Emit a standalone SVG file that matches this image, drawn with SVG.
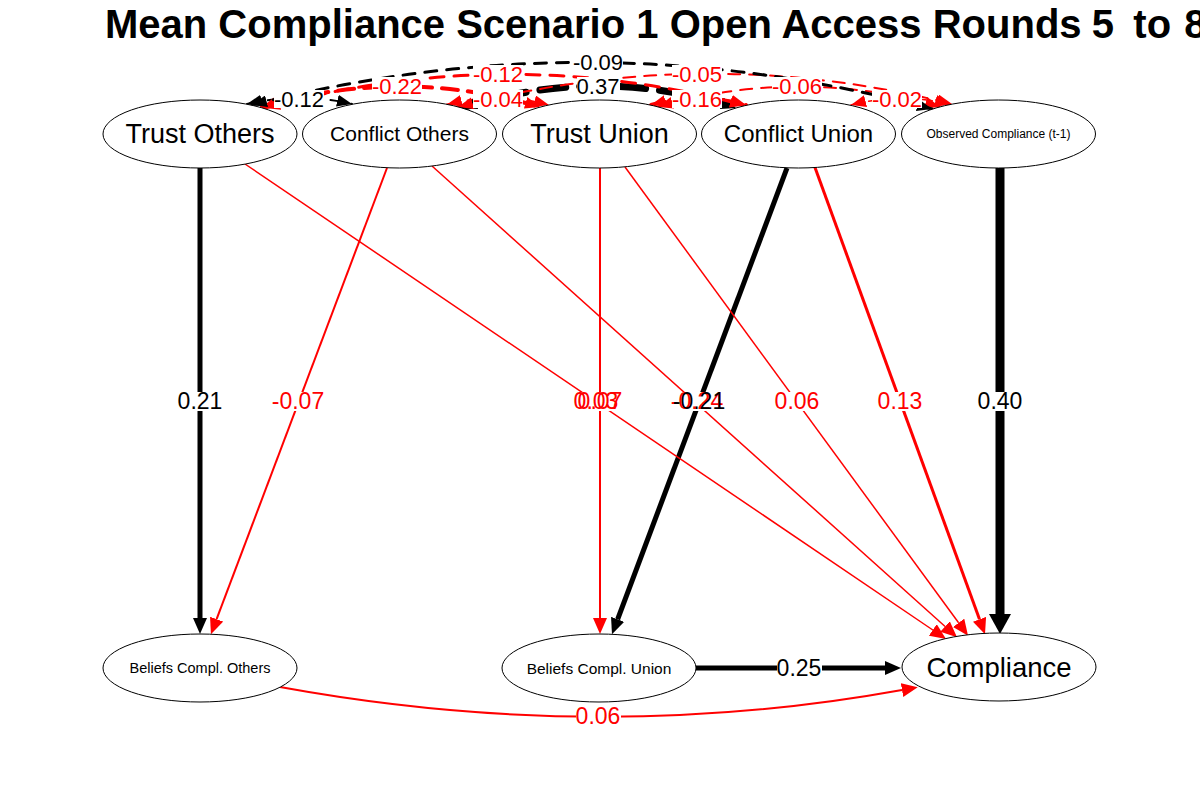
<svg xmlns="http://www.w3.org/2000/svg" width="1200" height="800" viewBox="0 0 1200 800">
<defs>
<style>
text{font-family:"Liberation Sans",Arial,Helvetica,sans-serif;}
.node ellipse{fill:#fff;stroke:#000;stroke-width:1;}
.nl{text-anchor:middle;fill:#000;}
.e{fill:none;}
.k{stroke:#000;}
.r{stroke:#f00;}
.cov{fill:none;stroke-linecap:round;}
.lb{fill:#fff;}
.lt{text-anchor:middle;font-size:23px;}
.ct{text-anchor:middle;font-size:22px;}
.tk{fill:#000;}
.tr{fill:#f00;}
.title{font-size:40px;font-weight:bold;white-space:pre;}
</style>
<marker id="ak" markerUnits="userSpaceOnUse" viewBox="0 0 16 14" markerWidth="16" markerHeight="14" refX="0" refY="7" orient="auto"><path d="M0,0 L16,7 L0,14 z" fill="#000"/></marker>
<marker id="ar" markerUnits="userSpaceOnUse" viewBox="0 0 16 14" markerWidth="16" markerHeight="14" refX="0" refY="7" orient="auto"><path d="M0,0 L16,7 L0,14 z" fill="#f00"/></marker>
<marker id="akb" markerUnits="userSpaceOnUse" viewBox="0 0 20 22" markerWidth="20" markerHeight="22" refX="0" refY="11" orient="auto"><path d="M0,0 L20,11 L0,22 z" fill="#000"/></marker>
<marker id="ck" markerUnits="userSpaceOnUse" viewBox="0 0 15 12" markerWidth="15" markerHeight="12" refX="15" refY="6" orient="auto-start-reverse"><path d="M0,0 L15,6 L0,12 z" fill="#000"/></marker>
<marker id="cr" markerUnits="userSpaceOnUse" viewBox="0 0 15 12" markerWidth="15" markerHeight="12" refX="15" refY="6" orient="auto-start-reverse"><path d="M0,0 L15,6 L0,12 z" fill="#f00"/></marker>
</defs>
<rect width="1200" height="800" fill="#fff"/>
<text class="title" x="105" y="38">Mean Compliance Scenario 1 Open Access Rounds<tspan dx="-12">  5</tspan><tspan dx="-3">  to</tspan><tspan dx="-9">  8</tspan></text>

<g id="connectors">
<!-- regressions -->
<path class="e k" stroke-width="5" d="M200,168 L200,618" marker-end="url(#ak)"/>
<path class="e r" stroke-width="2" d="M387,168 L216.6,619.2" marker-end="url(#ar)"/>
<path class="e r" stroke-width="2" d="M600,168 L600,618" marker-end="url(#ar)"/>
<path class="e k" stroke-width="5" d="M787,168 L617.6,619.3" marker-end="url(#ak)"/>
<path class="e r" stroke-width="1.5" d="M245,164 L932.8,630" marker-end="url(#ar)"/>
<path class="e r" stroke-width="1.5" d="M432,166 L945.1,626.5" marker-end="url(#ar)"/>
<path class="e r" stroke-width="1.5" d="M625,167 L958.6,622.8" marker-end="url(#ar)"/>
<path class="e r" stroke-width="3" d="M815,167.5 L979.5,619.3" marker-end="url(#ar)"/>
<path class="e k" stroke-width="9" d="M1000,168 L1000,614" marker-end="url(#akb)"/>
<path class="e k" stroke-width="5" d="M696,668 L885,668" marker-end="url(#ak)"/>
<path class="e r" stroke-width="2" d="M280,687 Q598,745 902,690" marker-end="url(#ar)"/>
<!-- covariances -->
<path class="cov k" stroke-width="2" stroke-dasharray="12 9" d="M247,104 Q300,92 352,104" marker-start="url(#ck)" marker-end="url(#ck)"/>
<path class="cov r" stroke-width="2" stroke-dasharray="12 9" d="M447,104.5 Q498,92 549,105" marker-start="url(#cr)" marker-end="url(#cr)"/>
<path class="cov r" stroke-width="4" stroke-dasharray="14 10" d="M651,105 Q699,92 746,105" marker-start="url(#cr)" marker-end="url(#cr)"/>
<path class="cov r" stroke-width="1.5" stroke-dasharray="10 8" d="M851,105 Q900,92 950,104.5" marker-start="url(#cr)" marker-end="url(#cr)"/>
<path class="cov r" stroke-width="4" stroke-dasharray="16 10" d="M262,107 Q400,66 540,107" marker-start="url(#cr)" marker-end="url(#cr)"/>
<path class="cov k" stroke-width="7" stroke-dasharray="26 14" d="M462,108 Q599,64 736,108" marker-start="url(#ck)" marker-end="url(#ck)"/>
<path class="cov r" stroke-width="2" stroke-dasharray="12 9" d="M658,107 Q799,66 940,107" marker-start="url(#cr)" marker-end="url(#cr)"/>
<path class="cov r" stroke-width="3" stroke-dasharray="14 10" d="M265,108 Q505,42 745,105.5" marker-start="url(#cr)" marker-end="url(#cr)"/>
<path class="cov r" stroke-width="2" stroke-dasharray="12 9" d="M458,107 Q705,42 952,104" marker-start="url(#cr)" marker-end="url(#cr)"/>
<path class="cov k" stroke-width="3" stroke-dasharray="12 10" d="M252,105 Q592,18 932,109" marker-start="url(#ck)" marker-end="url(#ck)"/>
</g>

<g id="label-backgrounds">
<rect class="lb" x="178" y="392" width="45" height="19"/>
<rect class="lb" x="272" y="392" width="52" height="19"/>
<rect class="lb" x="574" y="392" width="45" height="19"/>
<rect class="lb" x="578" y="392" width="45" height="19"/>
<rect class="lb" x="671" y="392" width="52" height="19"/>
<rect class="lb" x="673" y="392" width="52" height="19"/>
<rect class="lb" x="775" y="392" width="45" height="19"/>
<rect class="lb" x="878" y="392" width="45" height="19"/>
<rect class="lb" x="978" y="392" width="45" height="19"/>
<rect class="lb" x="777" y="659" width="45" height="19"/>
<rect class="lb" x="576" y="707" width="45" height="19"/>
<rect class="lb" x="274" y="90" width="50" height="18"/>
<rect class="lb" x="372" y="77" width="50" height="18"/>
<rect class="lb" x="473" y="65" width="50" height="18"/>
<rect class="lb" x="473" y="90" width="50" height="18"/>
<rect class="lb" x="577" y="77" width="43" height="18"/>
<rect class="lb" x="573" y="53" width="50" height="18"/>
<rect class="lb" x="672" y="65" width="50" height="18"/>
<rect class="lb" x="672" y="90" width="50" height="18"/>
<rect class="lb" x="772" y="77" width="50" height="18"/>
<rect class="lb" x="872" y="90" width="50" height="18"/>
</g>

<g id="edge-labels">
<text class="lt tk" x="200" y="409">0.21</text>
<text class="lt tr" x="298" y="409">-0.07</text>
<text class="lt tr" x="596" y="409">0.03</text>
<text class="lt tr" x="600" y="409">0.07</text>
<text class="lt tr" x="697" y="409">-0.24</text>
<text class="lt tk" x="699" y="409">-0.21</text>
<text class="lt tr" x="797" y="409">0.06</text>
<text class="lt tr" x="900" y="409">0.13</text>
<text class="lt tk" x="1000" y="409">0.40</text>
<text class="lt tk" x="799" y="676">0.25</text>
<text class="lt tr" x="598" y="724">0.06</text>
<text class="ct tk" x="299" y="107">-0.12</text>
<text class="ct tr" x="397" y="94">-0.22</text>
<text class="ct tr" x="498" y="82">-0.12</text>
<text class="ct tr" x="498" y="107">-0.04</text>
<text class="ct tk" x="598" y="94">0.37</text>
<text class="ct tk" x="598" y="70">-0.09</text>
<text class="ct tr" x="697" y="82">-0.05</text>
<text class="ct tr" x="697" y="107">-0.16</text>
<text class="ct tr" x="797" y="94">-0.06</text>
<text class="ct tr" x="897" y="107">-0.02</text>
</g>

<g id="node-trust-others" class="node"><ellipse cx="200" cy="134" rx="97" ry="34"/><text class="nl" x="200" y="143" font-size="27">Trust Others</text></g>
<g id="node-conflict-others" class="node"><ellipse cx="399.5" cy="134" rx="97" ry="34"/><text class="nl" x="399.5" y="141" font-size="21">Conflict Others</text></g>
<g id="node-trust-union" class="node"><ellipse cx="599.5" cy="134" rx="97" ry="34"/><text class="nl" x="599.5" y="143" font-size="27">Trust Union</text></g>
<g id="node-conflict-union" class="node"><ellipse cx="798.5" cy="134" rx="97" ry="34"/><text class="nl" x="798.5" y="142" font-size="24">Conflict Union</text></g>
<g id="node-observed-compliance" class="node"><ellipse cx="998.5" cy="134" rx="97" ry="34"/><text class="nl" x="998.5" y="138" font-size="12">Observed Compliance (t-1)</text></g>
<g id="node-beliefs-others" class="node"><ellipse cx="200" cy="668" rx="97" ry="34"/><text class="nl" x="200" y="673" font-size="14.5">Beliefs Compl. Others</text></g>
<g id="node-beliefs-union" class="node"><ellipse cx="599" cy="668" rx="97" ry="34"/><text class="nl" x="599" y="674" font-size="15.5">Beliefs Compl. Union</text></g>
<g id="node-compliance" class="node"><ellipse cx="999" cy="667" rx="97" ry="34"/><text class="nl" x="999" y="677" font-size="27.5">Compliance</text></g>
</svg>
